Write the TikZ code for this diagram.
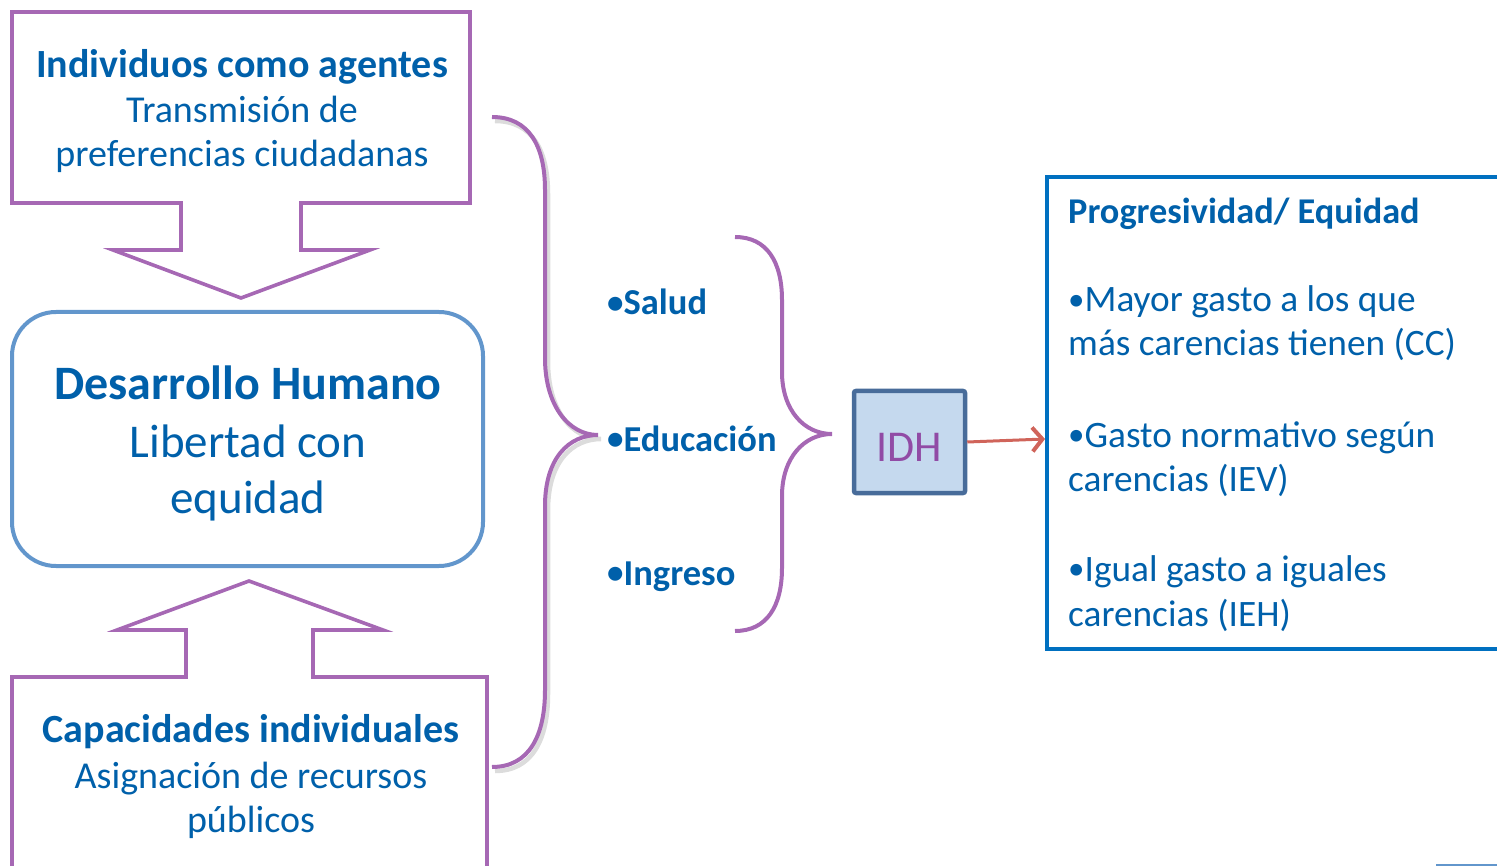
\documentclass[tikz,border=0pt]{standalone}
\usepackage{fontspec}
\setmainfont{Carlito}
\usetikzlibrary{arrows.meta}
\definecolor{lilac}{RGB}{166,104,180}
\definecolor{tblue}{RGB}{0,96,170}
\definecolor{rblue}{RGB}{0,112,192}
\definecolor{mblue}{RGB}{98,150,204}
\definecolor{idhfill}{RGB}{197,217,238}
\definecolor{idhdraw}{RGB}{72,108,154}
\definecolor{idhtext}{RGB}{145,75,165}
\definecolor{arrred}{RGB}{208,100,90}
\newcommand{\bul}{\raisebox{1.5pt}{\fontsize{33}{33}\selectfont •}}
\begin{document}
\begin{tikzpicture}[x=1pt,y=-1pt,
  pline/.style={draw=lilac,line width=3.6pt,line join=miter},
  brace/.style={draw=lilac,line width=4pt,line cap=butt},
  bshadow/.style={draw=black!45,opacity=0.3,line width=4.5pt},
  txt/.style={anchor=base,text=tblue,inner sep=0pt},
  ltxt/.style={anchor=base west,text=tblue,inner sep=0pt},
  fA/.style={font=\fontsize{40}{45}\selectfont\bfseries},
  fB/.style={font=\fontsize{38}{45}\selectfont},
  fC/.style={font=\fontsize{47}{57}\selectfont},
  fD/.style={font=\fontsize{36.5}{44}\selectfont\bfseries},
  fE/.style={font=\fontsize{36.3}{44}\selectfont\bfseries},
  fF/.style={font=\fontsize{37.3}{44}\selectfont},
  arr/.style={draw=arrred,line width=3pt,-{Straight Barb[length=10pt,width=24pt,line width=4pt]}}
]
\useasboundingbox (0,0) rectangle (1497,866);

% top callout box
\draw[pline] (12,12) -- (470,12) -- (470,203) -- (301,203) -- (301,250) -- (370,250)
  -- (241,298) -- (113,250) -- (181,250) -- (181,203) -- (12,203) -- cycle;
\node[txt,fA] (t1) at (242,78) {Individuos como agentes};
\node[txt,fB] (t2) at (242,123) {Transmisión de};
\node[txt,fB] (t3) at (242,167) {preferencias ciudadanas};

% middle rounded box
\draw[draw=mblue,line width=4pt,rounded corners=44pt] (12,312) rectangle (483,566);
\node[txt,font=\fontsize{48}{57}\selectfont\bfseries] (m1) at (248,400) {Desarrollo Humano};
\node[txt,fC] (m2) at (248,457) {Libertad con};
\node[txt,fC] (m3) at (248,513) {equidad};

% bottom callout box
\draw[pline] (12,868) -- (12,677) -- (186,677) -- (186,630) -- (117,630) -- (249,581)
  -- (383,630) -- (313,630) -- (313,677) -- (487,677) -- (487,868);
\node[txt,fA] (b1) at (251,742) {Capacidades individuales};
\node[txt,fB] (b2) at (251,788) {Asignación de recursos};
\node[txt,fB] (b3) at (251,832) {públicos};

% big brace
\draw[bshadow] (495,121) .. controls (532,121) and (548,150) .. (548,194) -- (548,362)
  .. controls (548,410) and (572,439) .. (601,439)
  .. controls (572,439) and (548,462) .. (548,510) -- (548,694)
  .. controls (548,740) and (532,771) .. (495,771);
\draw[brace] (492,117) .. controls (529,117) and (545,146) .. (545,190) -- (545,358)
  .. controls (545,406) and (569,435) .. (598,435)
  .. controls (569,435) and (545,458) .. (545,506) -- (545,690)
  .. controls (545,736) and (529,767) .. (492,767);

% list
\node[ltxt,fD] (s1) at (607,315) {\bul Salud};
\node[ltxt,fD] (s2) at (607,451) {\bul Educación};
\node[ltxt,fD] (s3) at (607,585) {\bul Ingreso};

% small brace
\draw[brace] (735,237) .. controls (767,237) and (782,262) .. (782,300) -- (782,372)
  .. controls (782,410) and (804,434) .. (832,434)
  .. controls (804,434) and (782,458) .. (782,496) -- (782,568)
  .. controls (782,606) and (767,631) .. (735,631);

% IDH
\node[draw=idhdraw,fill=idhfill,line width=4.5pt,rounded corners=2pt,
  minimum width=111pt,minimum height=102pt,inner sep=0pt,
  text=idhtext,font=\fontsize{44}{50}\selectfont,text height=38pt,text depth=0pt]
  (idh) at (909.5,442) {IDH};

% right box
\draw[draw=rblue,line width=4.5pt] (1502,177) -- (1047,177) -- (1047,649) -- (1502,649);
\coordinate (rbw) at (1045,439);
\draw[arr] (idh.east) -- (rbw);
\node[ltxt,fE] (r0) at (1068,224) {Progresividad/ Equidad};
\node[ltxt,fF] (r1) at (1068,312) {\bul Mayor gasto a los que};
\node[ltxt,fF] (r2) at (1068,356) {más carencias tienen (CC)};
\node[ltxt,fF] (r3) at (1068,447) {\bul Gasto normativo según};
\node[ltxt,fF] (r4) at (1068,491) {carencias (IEV)};
\node[ltxt,fF] (r5) at (1068,581) {\bul Igual gasto a iguales};
\node[ltxt,fF] (r6) at (1068,626) {carencias (IEH)};

% edge of a shape at the bottom right
\draw[draw=mblue,line width=3pt] (1436,865) -- (1497,865);
\end{tikzpicture}
\end{document}
